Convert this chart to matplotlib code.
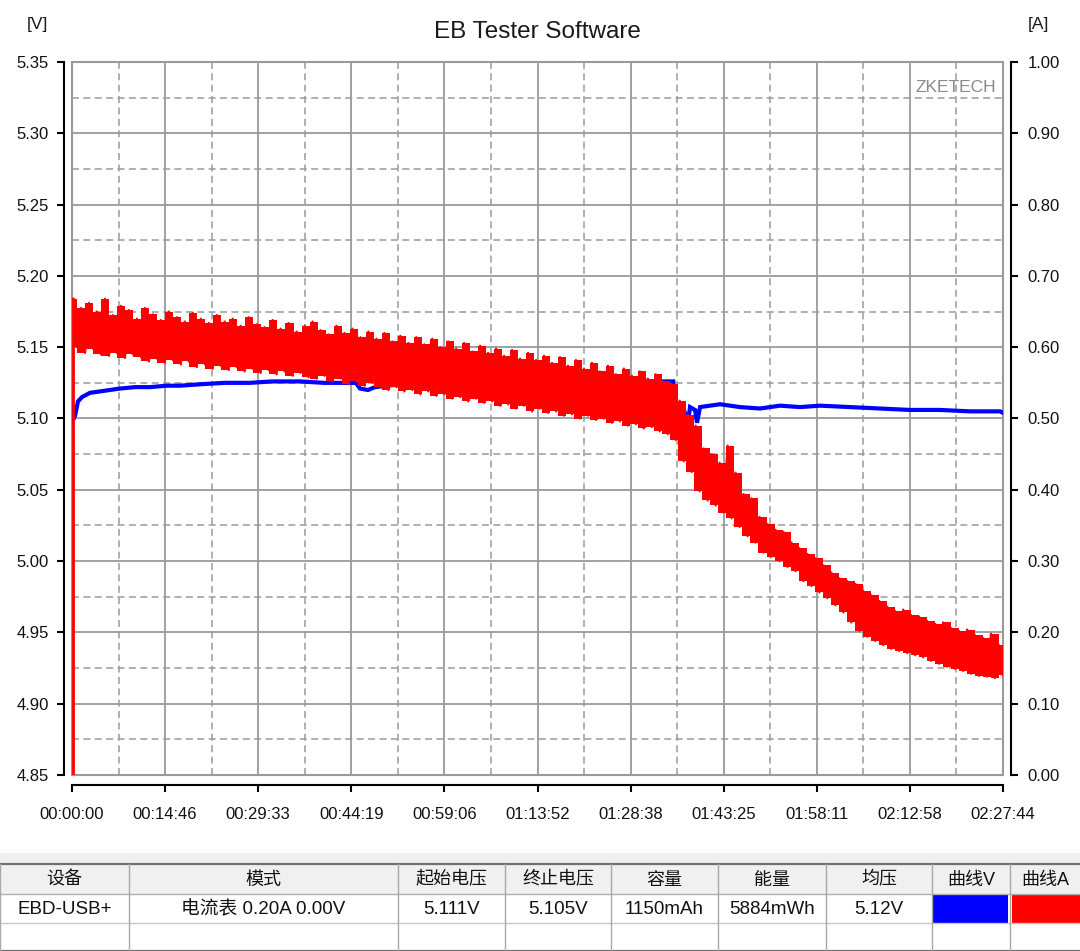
import numpy as np
import matplotlib
matplotlib.use('Agg')
import matplotlib.pyplot as plt
from matplotlib.ticker import FixedLocator, MultipleLocator, FormatStrFormatter
from matplotlib.patches import Rectangle

plt.rcParams['font.family'] = ['Liberation Sans', 'Noto Sans CJK SC', 'DejaVu Sans']
plt.rcParams['lines.scale_dashes'] = False

# ---------------- data ----------------
time_labels = ["00:00:00", "00:14:46", "00:29:33", "00:44:19", "00:59:06", "01:13:52",
               "01:28:38", "01:43:25", "01:58:11", "02:12:58", "02:27:44"]

# voltage curve (time in s, volts)
v_time = [0, 10, 29, 57, 95, 171, 267, 457, 600, 743, 900, 1028, 1219, 1450, 1695, 1900,
          2171, 2400, 2552, 2704, 2742, 2818, 2885, 3123, 3400, 3599, 3850, 4075, 4300,
          4551, 4800, 5027, 5200, 5408, 5600, 5725, 5740, 5770, 5827, 5865, 5884, 5932,
          5951, 5979, 6074, 6170, 6360, 6550, 6741, 6931, 7122, 7407, 7693, 7979, 8264,
          8550, 8835, 8864]
v_volt = [5.110, 5.099, 5.102, 5.112, 5.115, 5.118, 5.119, 5.121, 5.122, 5.122, 5.123,
          5.123, 5.124, 5.125, 5.125, 5.126, 5.126, 5.125, 5.125, 5.125, 5.121, 5.120,
          5.122, 5.124, 5.124, 5.125, 5.125, 5.125, 5.126, 5.125, 5.126, 5.126, 5.125,
          5.126, 5.126, 5.126, 5.109, 5.109, 5.106, 5.097, 5.108, 5.106, 5.097, 5.108,
          5.109, 5.110, 5.108, 5.107, 5.109, 5.108, 5.109, 5.108, 5.107, 5.106, 5.106,
          5.105, 5.105, 5.104]

# current curve: successive peak / trough readings (A), evenly logged
a_peak = [.668, .655, .662, .650, .668, .645, .658, .652, .640, .655,
          .646, .638, .650, .642, .636, .648, .640, .634, .645, .636,
          .640, .630, .642, .632, .628, .638, .626, .634, .622, .630,
          .636, .624, .618, .630, .620, .626, .614, .622, .612, .620,
          .608, .616, .606, .614, .604, .612, .600, .608, .598, .606,
          .594, .602, .592, .598, .588, .596, .584, .592, .582, .588,
          .578, .586, .574, .582, .570, .578, .566, .574, .562, .570,
          .560, .566, .556, .562, .552, .548, .525, .505, .490, .458,
          .450, .438, .462, .424, .394, .388, .362, .352, .344, .341,
          .326, .318, .310, .304, .294, .284, .276, .272, .268, .258,
          .252, .244, .236, .230, .232, .224, .222, .216, .212, .214,
          .206, .202, .204, .196, .192, .198, .182]
a_trough = [.600, .592, .598, .590, .588, .592, .585, .590, .586, .580,
            .584, .578, .582, .576, .580, .572, .576, .570, .574, .568,
            .572, .566, .570, .564, .568, .562, .566, .560, .564, .558,
            .556, .560, .552, .556, .548, .552, .546, .550, .544, .540,
            .544, .538, .540, .534, .538, .532, .534, .528, .530, .524,
            .528, .522, .524, .518, .520, .514, .518, .510, .514, .508,
            .510, .504, .506, .500, .504, .498, .500, .494, .496, .490,
            .492, .486, .488, .482, .478, .470, .440, .425, .398, .385,
            .378, .368, .360, .348, .335, .326, .312, .306, .300, .292,
            .286, .272, .265, .256, .248, .238, .228, .214, .202, .194,
            .188, .182, .177, .174, .171, .168, .165, .160, .156, .152,
            .149, .146, .142, .139, .138, .136, .140]
a_start_time = 10
a_start_value = 0.0

table_headers = ["设备", "模式", "起始电压", "终止电压", "容量", "能量", "均压", "曲线V", "曲线A"]
table_values = ["EBD-USB+", "电流表 0.20A 0.00V", "5.111V", "5.105V", "1150mAh",
                "5884mWh", "5.12V", "", ""]

# ---------------- helpers ----------------
def to_sec(s):
    h, m, sec = (int(p) for p in s.split(':'))
    return h * 3600 + m * 60 + sec

tick_sec = [to_sec(s) for s in time_labels]
minor_sec = [(a + b) / 2 for a, b in zip(tick_sec[:-1], tick_sec[1:])]
t_end = tick_sec[-1]

# logging timeline of the peak/trough readings
a_sample_time = np.linspace(a_start_time, t_end, len(a_peak))
a_vals = np.column_stack([a_peak, a_trough]).ravel()
a_time = np.linspace(a_start_time, t_end, len(a_vals))

W, H = 1080, 951
fig = plt.figure(figsize=(W / 100, H / 100), dpi=100)
fig.patch.set_facecolor('white')

def fx(px):
    return px / W

def fy(py):
    return 1 - py / H

ax = fig.add_axes([fx(72), fy(775), fx(1003) - fx(72), fy(62) - fy(775)])
ax2 = ax.twinx()

grid_c = '#9a9a9a'
ax.set_xlim(0, t_end)
ax.set_ylim(4.85, 5.35)
ax2.set_ylim(0, 1.0)

ax.xaxis.set_major_locator(FixedLocator(tick_sec))
ax.xaxis.set_minor_locator(FixedLocator(minor_sec))
ax.set_xticklabels(time_labels)
ax.yaxis.set_major_locator(MultipleLocator(0.05))
ax.yaxis.set_minor_locator(MultipleLocator(0.025))
ax.yaxis.set_major_formatter(FormatStrFormatter('%.2f'))
ax2.yaxis.set_major_locator(MultipleLocator(0.1))
ax2.yaxis.set_major_formatter(FormatStrFormatter('%.2f'))

ax.set_axisbelow(True)
ax.grid(which='major', color=grid_c, lw=1.3, ls='-')
ax.grid(which='minor', color=grid_c, lw=1.1, ls=(0, (5, 3.2)))

for a in (ax, ax2):
    a.tick_params(which='minor', length=0)
    a.tick_params(which='major', length=5, width=1.5, color='black',
                  labelsize=12, labelcolor='#111111')
ax.tick_params(axis='y', pad=6)
ax.tick_params(axis='x', pad=11)
ax2.tick_params(axis='y', pad=7)

ax.spines['top'].set_visible(False)
ax.spines['right'].set_visible(False)
ax.spines['left'].set_position(('outward', 5.8))
ax.spines['bottom'].set_position(('outward', 7.2))
for s in ('left', 'bottom'):
    ax.spines[s].set_linewidth(1.5)
for s in ('top', 'left', 'bottom'):
    ax2.spines[s].set_visible(False)
ax2.spines['right'].set_position(('outward', 5.8))
ax2.spines['right'].set_linewidth(1.5)

ax.add_patch(Rectangle((0, 0), 1, 1, transform=ax.transAxes, fill=False,
                       ec=grid_c, lw=1.5, zorder=0.5, clip_on=False))

ax.plot(v_time, v_volt, color='#0000ff', lw=3.0, solid_joinstyle='miter', zorder=3)

# current: start-up rise, band of readings, and the oscillating trace
ax2.plot([a_start_time, a_start_time], [a_start_value, a_peak[0]], color='#ff0000',
         lw=2.0, zorder=3)
ax2.fill_between(a_sample_time, a_trough, a_peak, step='mid', color='#ff0000',
                 lw=0, zorder=3)
ax2.plot(a_time, a_vals, color='#ff0000', lw=1.6, zorder=3)

fig.text(fx(537), fy(32), "EB Tester Software", ha='center', va='center',
         fontsize=17.5, color='#1a1a1a')
fig.text(fx(37), fy(25), "[V]", ha='center', va='center', fontsize=12.5, color='#1a1a1a')
fig.text(fx(1038), fy(25), "[A]", ha='center', va='center', fontsize=12.5, color='#1a1a1a')
fig.text(fx(956), fy(88), "ZKETECH", ha='center', va='center', fontsize=12.5,
         color='#8a8a8a')

# ---------------- table ----------------
tax = fig.add_axes([0, 0, 1, fy(853)])
tax.set_xlim(0, W)
tax.set_ylim(H, 853)
tax.axis('off')
col_edges = [0, 129, 398, 505, 611, 718, 826, 932, 1010, 1080]
row_edges = [864, 894, 923, 951]
tax.add_patch(Rectangle((0, 853), W, row_edges[1] - 853, fc='#f0f0f0', ec='none'))
tax.add_patch(Rectangle((0, row_edges[1]), W, H - row_edges[1], fc='white', ec='none'))
tax.add_patch(Rectangle((col_edges[7] + 1, row_edges[1] + 1), col_edges[8] - col_edges[7] - 3,
                        row_edges[2] - row_edges[1] - 1, fc='#0000ff', ec='none'))
tax.add_patch(Rectangle((col_edges[8] + 2, row_edges[1] + 1), col_edges[9] - col_edges[8] - 2,
                        row_edges[2] - row_edges[1] - 1, fc='#ff0000', ec='none'))
for y, c, lw in zip(row_edges, ['#707070', '#b0b0b0', '#c8c8c8', '#707070'],
                    [1.6, 1.0, 1.0, 1.6]):
    tax.plot([0, W], [y, y], color=c, lw=lw, solid_capstyle='butt')
for x in col_edges[:-1]:
    tax.plot([x, x], [row_edges[0], H], color='#a8a8a8', lw=1.0)
for i, (hd, val) in enumerate(zip(table_headers, table_values)):
    cx = (col_edges[i] + col_edges[i + 1]) / 2
    tax.text(cx, (row_edges[0] + row_edges[1]) / 2 + 1, hd, ha='center', va='center',
             fontsize=13, color='#111111')
    if val:
        tax.text(cx, (row_edges[1] + row_edges[2]) / 2 + 1, val, ha='center', va='center',
                 fontsize=13.5, color='#111111')

fig.savefig('out.png', dpi=100, facecolor='white')
